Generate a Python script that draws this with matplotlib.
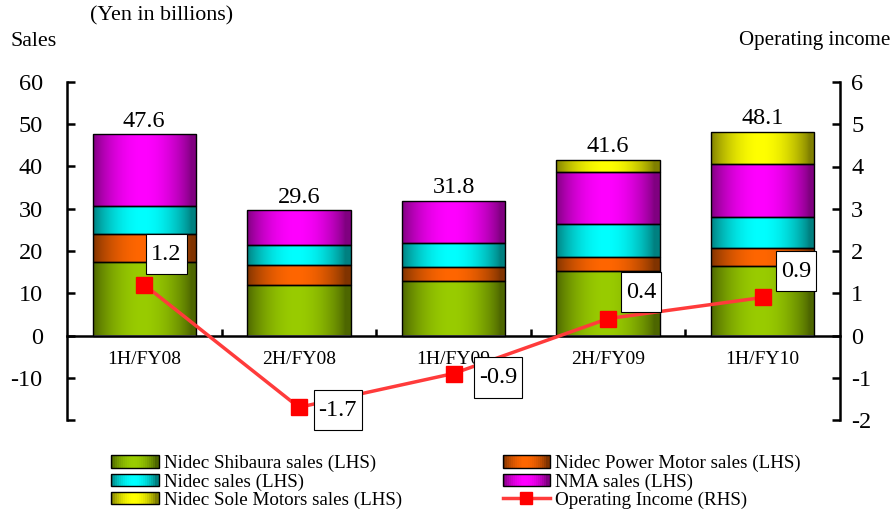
import numpy as np
import matplotlib
matplotlib.use("Agg")
import matplotlib.pyplot as plt
from matplotlib.legend_handler import HandlerBase
from matplotlib.patches import Rectangle
from matplotlib.lines import Line2D
from matplotlib.colors import to_rgb

plt.rcParams['font.family'] = ['Liberation Serif', 'DejaVu Serif']
plt.rcParams['axes.unicode_minus'] = False

# ---------------- data ----------------
categories = ["1H/FY08", "2H/FY08", "1H/FY09", "2H/FY09", "1H/FY10"]
shibaura = [17.4, 12.0, 13.0, 15.3, 16.4]
power_motor = [6.7, 4.8, 3.2, 3.3, 4.3]
nidec = [6.6, 4.7, 5.7, 7.7, 7.4]
nma = [16.9, 8.1, 9.9, 12.3, 12.6]
sole = [0.0, 0.0, 0.0, 3.0, 7.4]
totals = [47.6, 29.6, 31.8, 41.6, 48.1]
op_income = [1.2, -1.7, -0.9, 0.4, 0.9]

series_names = ["Nidec Shibaura sales (LHS)", "Nidec Power Motor sales (LHS)",
                "Nidec sales (LHS)", "NMA sales (LHS)", "Nidec Sole Motors sales (LHS)"]
line_name = "Operating Income (RHS)"

# styles
bright = ["#99CC00", "#FF6600", "#00FFFF", "#FF00FF", "#FFFF00"]
dark = ["#4D6600", "#803300", "#008080", "#800080", "#808000"]
label_offsets = [(16, 22), (28, -2), (32, -3), (24, 19), (24, 19)]


def gradient_colors(c_dark, c_bright, n=64):
    t = np.linspace(0, 1, n)
    w = np.sin(np.pi * np.clip(t * 1.05, 0, 1)) ** 0.8
    cd = np.array(to_rgb(c_dark))
    cb = np.array(to_rgb(c_bright))
    return cd[None, :] * (1 - w[:, None]) + cb[None, :] * w[:, None]


class HandlerGradient(HandlerBase):
    def __init__(self, c_dark, c_bright):
        super().__init__()
        self.cd = c_dark
        self.cb = c_bright

    def create_artists(self, legend, orig_handle, xdescent, ydescent,
                       width, height, fontsize, trans):
        n = 24
        cols = gradient_colors(self.cd, self.cb, n)
        arts = []
        for i in range(n):
            r = Rectangle((-xdescent + width * i / n, -ydescent), width / n * 1.05, height,
                          facecolor=cols[i], edgecolor='none', transform=trans)
            arts.append(r)
        arts.append(Rectangle((-xdescent, -ydescent), width, height, facecolor='none',
                              edgecolor='black', lw=1.0, transform=trans))
        return arts


W, H = 896, 517
fig = plt.figure(figsize=(W / 100, H / 100), dpi=100)
ax = fig.add_axes([67 / W, 1 - 420 / H, (840 - 67) / W, (420 - 82) / H])
ax2 = ax.twinx()

x = np.arange(len(categories))
bw = 0.67
bottom = np.zeros(len(categories))
seg_data = [shibaura, power_motor, nidec, nma, sole]
for vals, cb, cd in zip(seg_data, bright, dark):
    vals = np.array(vals)
    bars = ax.bar(x, vals, bw, bottom=bottom, facecolor='none', edgecolor='black',
                  lw=1.0, zorder=3)
    grad = gradient_colors(cd, cb, 64)[None, :, :]
    for xi, v, b0, p in zip(x, vals, bottom, bars.patches):
        if v <= 0:
            p.set_visible(False)
            continue
        im = ax.imshow(grad, extent=(xi - bw / 2, xi + bw / 2, b0, b0 + v),
                       aspect='auto', interpolation='bilinear', zorder=2)
        im.set_clip_path(p)
    bottom = bottom + vals

for xi, t in zip(x, totals):
    ax.annotate(f"{t:.1f}", (xi, t), xytext=(0, 2), textcoords='offset points',
                ha='center', va='bottom', fontsize=17.5)

ax.set_xlim(-0.5, 4.5)
ax.set_ylim(-20, 60)
ax.set_yticks(np.arange(-20, 61, 10))
ax.set_yticklabels(["" if v == -20 else str(v) for v in range(-20, 61, 10)])
ax.tick_params(axis='y', direction='in', length=6, width=1.8, labelsize=17.5, pad=17.5)

ax.set_xticks([0.5, 1.5, 2.5, 3.5])
ax.set_xticklabels([])
ax.set_xticks(x, minor=True)
ax.set_xticklabels(categories, minor=True)
ax.tick_params(axis='x', which='major', direction='in', length=5, width=1.8)
ax.tick_params(axis='x', which='minor', length=0, labelsize=14, pad=11)

ax.spines['bottom'].set_position(('data', 0))
ax.spines['top'].set_visible(False)
ax.spines['right'].set_visible(False)
for s in ['left', 'bottom']:
    ax.spines[s].set_linewidth(1.8)

ax2.set_ylim(-2, 6)
ax2.set_yticks(np.arange(-2, 7, 1))
ax2.tick_params(axis='y', direction='in', length=6, width=1.8, labelsize=17.5, pad=8)
for s in ['left', 'top', 'bottom']:
    ax2.spines[s].set_visible(False)
ax2.spines['right'].set_linewidth(1.8)

ax2.plot(x, op_income, color='#FF3B3B', lw=2.5, marker='s', markersize=11,
         markerfacecolor='#FF0000', markeredgecolor='#FF0000', zorder=5)
for xi, v, off in zip(x, op_income, label_offsets):
    ax2.annotate(f"{v:.1f}", (xi, v), xytext=off, textcoords='offset points',
                 ha='center', va='center', fontsize=17.5, zorder=6,
                 bbox=dict(boxstyle='square,pad=0.2', mutation_aspect=2.0,
                           facecolor='white', edgecolor='black', lw=0.8))

fig.text(90 / W, 1 - 16 / H, "(Yen in billions)", fontsize=15.8, ha='left', va='center')
fig.text(10 / W, 1 - 41 / H, "Sales", fontsize=15.8, ha='left', va='center')
fig.text(890 / W, 1 - 41 / H, "Operating income", fontsize=15.1, ha='right', va='center')

# legend
handles = [Rectangle((0, 0), 1, 1) for _ in range(5)]
line_handle = Line2D([], [], color='#FF3B3B', lw=2.5, marker='s', markersize=9,
                     markerfacecolor='#FF0000', markeredgecolor='#FF0000')
order = [0, 2, 4, 1, 3]
leg_handles = [handles[i] for i in order] + [line_handle]
leg_labels = [series_names[i] for i in order] + [line_name]
hmap = {handles[i]: HandlerGradient(dark[i], bright[i]) for i in range(5)}
fig.legend(leg_handles, leg_labels, handler_map=hmap, ncol=2, frameon=False,
           loc='upper left', bbox_to_anchor=(111 / W, 1 - 455 / H),
           fontsize=13.7, handlelength=2.5, handleheight=0.62, handletextpad=0.27,
           labelspacing=0.05, columnspacing=5.3, borderpad=0, borderaxespad=0,
           numpoints=1)

fig.savefig("out.png", dpi=100)
